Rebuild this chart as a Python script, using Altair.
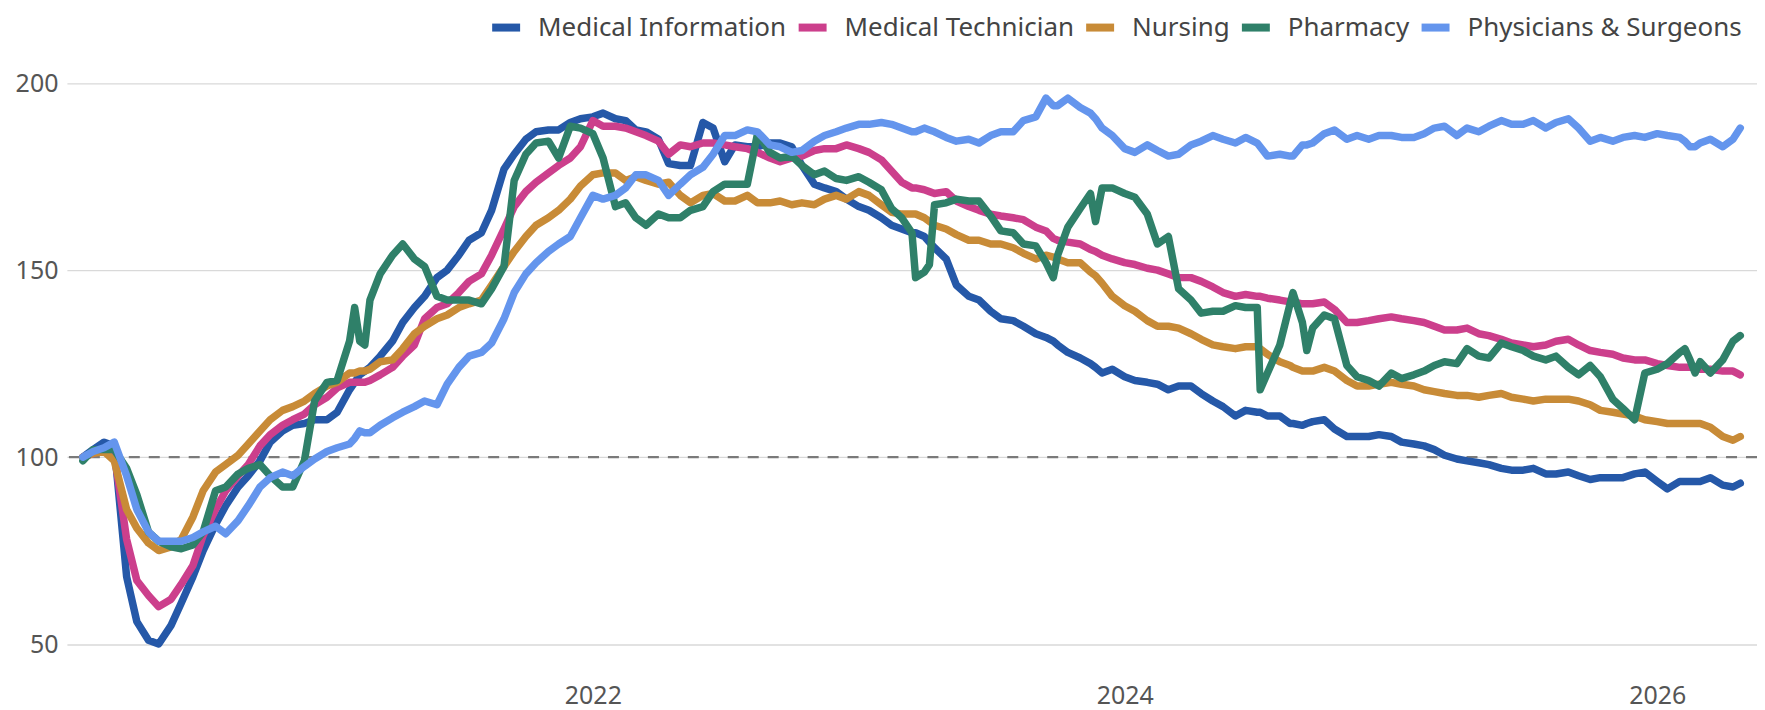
import altair as alt
import pandas as pd

# ---------------- data ----------------
series_names = ["Medical Information", "Medical Technician", "Nursing", "Pharmacy", "Physicians & Surgeons"]
series_colors = ["#2558a8", "#cc3f8c", "#c88b37", "#2f8069", "#6495ed"]

dates_2020 = ["2020-02-01", "2020-02-15", "2020-03-01", "2020-03-15", "2020-04-01", "2020-04-15",
              "2020-05-01", "2020-05-15", "2020-06-01", "2020-06-15", "2020-07-01", "2020-07-15",
              "2020-08-01", "2020-08-15", "2020-09-01", "2020-09-15", "2020-10-01", "2020-10-15",
              "2020-11-01", "2020-11-15", "2020-12-01", "2020-12-15"]
dates_2021 = ["2021-01-01", "2021-01-15", "2021-02-01", "2021-02-08", "2021-02-15", "2021-02-22",
              "2021-03-01", "2021-03-15", "2021-04-01", "2021-04-15", "2021-05-01", "2021-05-15",
              "2021-06-01", "2021-06-15", "2021-07-01", "2021-07-15", "2021-08-01", "2021-08-15",
              "2021-09-01", "2021-09-15", "2021-10-01", "2021-10-15", "2021-11-01", "2021-11-15",
              "2021-12-01", "2021-12-15"]
dates_2022 = ["2022-01-01", "2022-01-15", "2022-02-01", "2022-02-15", "2022-03-01", "2022-03-15",
              "2022-04-01", "2022-04-15", "2022-05-01", "2022-05-15", "2022-06-01", "2022-06-15",
              "2022-07-01", "2022-07-15", "2022-08-01", "2022-08-15", "2022-09-01", "2022-09-15",
              "2022-10-01", "2022-10-15", "2022-11-01", "2022-11-15", "2022-12-01", "2022-12-15"]
dates_2023 = ["2023-01-01", "2023-01-15", "2023-02-01", "2023-02-15", "2023-03-01", "2023-03-15",
              "2023-03-20", "2023-04-01", "2023-04-08", "2023-04-15", "2023-05-01", "2023-05-15",
              "2023-06-01", "2023-06-15", "2023-07-01", "2023-07-15", "2023-08-01", "2023-08-15",
              "2023-09-01", "2023-09-15", "2023-09-25", "2023-10-01", "2023-10-15", "2023-11-01",
              "2023-11-15", "2023-11-22", "2023-12-01", "2023-12-15"]
dates_2024 = ["2024-01-01", "2024-01-15", "2024-02-01", "2024-02-15", "2024-03-01", "2024-03-15",
              "2024-04-01", "2024-04-15", "2024-05-01", "2024-05-15", "2024-06-01", "2024-06-15",
              "2024-07-01", "2024-07-05", "2024-07-15", "2024-08-01", "2024-08-15", "2024-08-19",
              "2024-09-01", "2024-09-07", "2024-09-15", "2024-10-01", "2024-10-15", "2024-11-01",
              "2024-11-15", "2024-12-01", "2024-12-15"]
dates_2025 = ["2025-01-01", "2025-01-15", "2025-02-01", "2025-02-15", "2025-03-01", "2025-03-15",
              "2025-04-01", "2025-04-15", "2025-05-01", "2025-05-15", "2025-06-01", "2025-06-15",
              "2025-07-01", "2025-07-15", "2025-08-01", "2025-08-15", "2025-09-01", "2025-09-15",
              "2025-10-01", "2025-10-15", "2025-11-01", "2025-11-15", "2025-12-01", "2025-12-15"]
dates_2026 = ["2026-01-01", "2026-01-15", "2026-02-01", "2026-02-08", "2026-02-15", "2026-02-22",
              "2026-03-01", "2026-03-15", "2026-04-01", "2026-04-15", "2026-04-25"]
dates = dates_2020 + dates_2021 + dates_2022 + dates_2023 + dates_2024 + dates_2025 + dates_2026

medical_information = (
    [100, 102, 104, 103, 68, 56, 51, 50, 55, 61, 68, 75, 82, 87, 92, 95, 99, 104, 107, 108.5, 109, 110]
    + [110, 112, 118, 120, 122, 123, 124, 127, 131, 136, 140, 143, 148, 150, 154, 158, 160, 166, 177, 181,
       185, 187, 187.5, 187.5, 189.5, 190.5]
    + [191, 192, 190.5, 190, 187.5, 187, 185, 178.5, 178, 178, 189.5, 188, 179, 183.5, 183, 183, 184, 184,
       183, 178, 173, 172, 171, 169]
    + [167, 166, 164, 162, 161, 160, 160, 159, 157.5, 156, 153, 146, 143, 142, 139, 137, 136.5, 135, 133,
       132, 131, 130, 128, 126.5, 125, 124, 122.5, 123.5]
    + [121.5, 120.5, 120, 119.5, 118, 119, 119, 117, 115, 113.5, 111, 112.5, 112, 112, 111, 111, 109, 109,
       108.5, 109, 109.5, 110, 107.5, 105.5, 105.5, 105.5, 106]
    + [105.5, 104, 103.5, 103, 102, 100.5, 99.5, 99, 98.5, 98, 97, 96.5, 96.5, 97, 95.5, 95.5, 96, 95, 94,
       94.5, 94.5, 94.5, 95.5, 96]
    + [93.5, 91.5, 93.5, 93.5, 93.5, 93.5, 93.5, 94.5, 92.5, 92, 93]
)
medical_technician = (
    [100, 101, 102, 101, 78, 67, 63, 60, 62, 66, 71, 79, 86, 91, 95, 98, 103, 106, 108.5, 110, 111.5, 114]
    + [116, 118.5, 120, 120, 120, 120, 120.5, 122, 124, 127, 130, 137, 140, 141, 144, 147, 149, 154, 161,
       167, 171, 173.5, 176, 178, 180, 183]
    + [190, 188.5, 188.5, 188, 187, 186, 184.5, 181, 183.5, 183, 184, 184, 183.5, 183, 182.5, 181.5, 180,
       179, 180, 180.5, 182, 182.5, 182.5, 183.5]
    + [182.5, 181.5, 179.5, 176.5, 173.5, 172, 172, 171.5, 171, 170.5, 171, 168.5, 167, 166, 165, 164.5,
       164, 163.5, 161.5, 160.5, 158.5, 158, 157.5, 157, 155.5, 155, 154, 153]
    + [152, 151.5, 150.5, 150, 149, 148, 148, 147, 145.5, 144, 143, 143.5, 143, 143, 142.5, 142, 141.5,
       141.5, 141, 141, 141, 141.5, 139.5, 136, 136, 136.5, 137]
    + [137.5, 137, 136.5, 136, 135, 134, 134, 134.5, 133, 132.5, 131.5, 130.5, 130, 129.5, 130, 131, 131.5,
       130, 128.5, 128, 127.5, 126.5, 126, 126]
    + [125, 124.5, 124, 124, 124, 124, 123.5, 123.5, 123, 123, 122]
)
nursing = (
    [100, 101, 101.5, 99, 86, 81, 77, 75, 76, 78, 84, 91, 96, 98, 100.5, 103.5, 107, 110, 112.5, 113.5,
     115, 117]
    + [119, 120, 122.5, 122.5, 123, 123, 123.5, 125.5, 126, 129, 133, 135, 137, 138, 140, 141, 142, 146,
       151, 155, 159, 162, 164, 166, 169, 172.5]
    + [175.5, 176, 176, 174, 175, 174, 173, 173.5, 170, 168, 170, 170.5, 168.5, 168.5, 170, 168, 168,
       168.5, 167.5, 168, 167.5, 169, 170, 169]
    + [171, 170, 167.5, 165.5, 165, 165, 165, 164, 163, 162, 161, 159.5, 158, 158, 157, 157, 156, 154.5,
       153, 154, 153.5, 153, 152, 152, 149.5, 148.5, 146.5, 143]
    + [140.5, 139, 136.5, 135, 135, 134.5, 133, 131.5, 130, 129.5, 129, 129.5, 129.5, 129, 127.5, 125.5,
       124.5, 124, 123, 123, 123, 124, 123, 120.5, 119, 119, 119.5]
    + [120, 119.5, 119, 118, 117.5, 117, 116.5, 116.5, 116, 116.5, 117, 116, 115.5, 115, 115.5, 115.5,
       115.5, 115, 114, 112.5, 112, 111.5, 111, 110]
    + [109.5, 109, 109, 109, 109, 109, 109, 108, 105.5, 104.5, 105.5]
)
pharmacy = (
    [99, 102, 102, 102, 97, 90, 80, 77.5, 76, 75.5, 76.5, 80, 91, 92, 95.5, 97, 98, 95, 92, 92, 99, 115]
    + [120, 120.5, 131, 140, 131, 130, 142, 149, 154, 157, 153, 151, 143, 142, 142, 142, 141, 145, 151,
       174, 181, 184, 184.5, 180, 188.5, 188]
    + [186.5, 180, 167, 168, 164, 162, 165, 164, 164, 166, 167, 171, 173, 173, 173, 186.5, 181.5, 180,
       180.5, 178, 175.5, 176.5, 174.5, 174]
    + [175, 173.5, 171.5, 166.5, 164, 160, 148, 149.5, 151.5, 167.5, 168, 169, 168.5, 168.5, 164.5, 160.5,
       160, 157, 156.5, 152, 148, 154, 161.5, 166.5, 170.5, 163, 172, 172]
    + [170.5, 169.5, 165, 157, 159, 145, 142, 138.5, 139, 139, 140.5, 140, 140, 118, 122.5, 130, 141, 144,
       136, 128.5, 134.5, 138, 137, 124.5, 121.5, 120.5, 119]
    + [122.5, 121, 122, 123, 124.5, 125.5, 125, 129, 127, 126.5, 130.5, 129.5, 128.5, 127, 126, 127, 124,
       122, 124.5, 121.5, 115.5, 113, 110, 122.5]
    + [123.5, 125, 128, 129, 126, 122.5, 125.5, 122.5, 126, 131, 132.5]
)
physicians_surgeons = (
    [100, 101.5, 102.5, 104, 95, 86, 80, 77.5, 77.5, 77.5, 78.5, 80, 81.5, 79.5, 83, 87, 92, 94.5, 96, 95,
     97.5, 99.5]
    + [101.5, 102.5, 103.5, 105, 107, 106.5, 106.5, 108.5, 110.5, 112, 113.5, 115, 114, 119.5, 124, 127,
       128, 130.5, 137, 144, 149, 152, 155, 157, 159, 164]
    + [170, 169, 170, 172, 175.5, 175.5, 174, 170, 173, 175.5, 177.5, 181, 186, 186, 187.5, 187, 183.5,
       183, 181.5, 182, 184.5, 186, 187, 188]
    + [189, 189, 189.5, 189, 188, 187, 187, 188, 187.5, 187, 185.5, 184.5, 185, 184, 186, 187, 187, 190,
       191, 196, 194, 194, 196, 193.5, 192, 190.5, 188, 186]
    + [182.5, 181.5, 183.5, 182, 180.5, 181, 183.5, 184.5, 186, 185, 184, 185.5, 184, 183, 180.5, 181,
       180.5, 180.5, 183.5, 183.5, 184, 186.5, 187.5, 185, 186, 185, 186]
    + [186, 185.5, 185.5, 186.5, 188, 188.5, 186, 188, 187, 188.5, 190, 189, 189, 190, 188, 189.5, 190.5,
       188, 184.5, 185.5, 184.5, 185.5, 186, 185.5]
    + [186.5, 186, 185.5, 184.5, 183, 183, 184, 185, 183, 185, 188]
)

y_ticks = [50, 100, 150, 200]
x_tick_years = ["2022-01-01", "2024-01-01", "2026-01-01"]
x_domain = ["2020-01-10", "2026-05-18"]
baseline_value = [100]

# ---------------- build table ----------------
all_values = [medical_information, medical_technician, nursing, pharmacy, physicians_surgeons]
for v in all_values:
    assert len(v) == len(dates), (len(v), len(dates))

rows = []
for name, vals in zip(series_names, all_values):
    for d, v in zip(dates, vals):
        rows.append({"date": d, "value": v, "series": name})
df = pd.DataFrame(rows)


def ms(s):
    return int(pd.Timestamp(s, tz="UTC").value // 10**6)


FONT = "Noto Sans"

x_scale = alt.Scale(type="utc", domain=[ms(x_domain[0]), ms(x_domain[1])], nice=False)
y_scale = alt.Scale(domain=[40, 205], nice=False, zero=False)

y_axis = alt.Axis(values=y_ticks, grid=True, gridColor="#d9d9d9", gridWidth=1.3, domain=False,
                  ticks=False, labelPadding=9, title=None, labelFontSize=25,
                  labelColor="#555555", labelFont=FONT)
x_axis = alt.Axis(values=[ms(t) for t in x_tick_years], labelExpr="utcFormat(datum.value, '%Y')",
                  grid=False, domain=False, ticks=False, labelPadding=2, title=None,
                  labelFontSize=25, labelColor="#555555", labelFont=FONT)

legend = alt.Legend(
    orient="none", legendX=422, legendY=-55, direction="horizontal", title=None,
    symbolType="stroke", symbolSize=784, symbolStrokeWidth=8,
    labelFont=FONT, labelFontSize=26, labelColor="#444444", labelOffset=14,
    columnPadding=-4, labelLimit=0, padding=0,
)

rule = alt.Chart(pd.DataFrame({"y": baseline_value})).mark_rule(
    strokeDash=[11, 9], color="#7a7a7a", strokeWidth=2.2
).encode(y=alt.Y("y:Q", scale=y_scale, axis=y_axis))

lines = alt.Chart(df).mark_line(strokeWidth=7.5, strokeJoin="round", strokeCap="round").encode(
    x=alt.X("date:T", scale=x_scale, axis=x_axis),
    y=alt.Y("value:Q", scale=y_scale, axis=y_axis),
    color=alt.Color("series:N", scale=alt.Scale(domain=series_names, range=series_colors),
                    sort=series_names, legend=legend),
    order=alt.Order("date:T"),
)

chart = alt.layer(rule, lines).properties(
    width=1693, height=618,
    autosize=alt.AutoSizeParams(type="none"),
    padding={"left": 59, "top": 56, "right": 0, "bottom": 28},
).configure(font=FONT, background="white").configure_view(stroke=None).configure_axis(
    domain=False, ticks=False)

chart.save("out.html", embed_options={"renderer": "svg", "actions": False})
